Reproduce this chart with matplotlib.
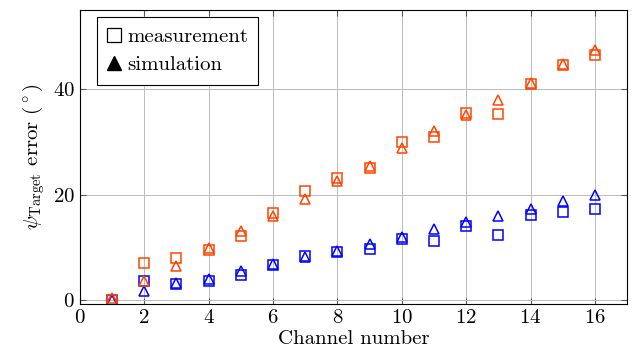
import matplotlib
matplotlib.use('Agg')
from matplotlib import pyplot
from matplotlib.lines import Line2D

pyplot.rcParams['font.family'] = 'serif'
pyplot.rcParams['font.serif'] = ['cmr10', 'DejaVu Serif']
pyplot.rcParams['mathtext.fontset'] = 'cm'
pyplot.rcParams['axes.formatter.use_mathtext'] = True

channels = list(range(1, 17))
orange_meas = [0, 7, 8, 9.5, 12.2, 16.5, 20.7, 23.2, 25, 30, 31, 35.5, 35.3, 41, 44.5, 46.5]
orange_sim = [0.3, 3.5, 6.5, 9.8, 13, 16, 19.2, 22.5, 25.5, 28.8, 32, 35, 38, 41.2, 44.7, 47.5]
blue_meas = [0, 3.5, 3, 3.5, 4.8, 6.7, 8.3, 9, 9.7, 11.5, 11.2, 14, 12.4, 16.2, 16.6, 17.2]
blue_sim = [0, 1.7, 3.2, 4, 5.5, 6.8, 8.2, 9.3, 10.7, 12, 13.5, 14.7, 16, 17.3, 18.7, 20]

blue = '#0000ff'
orange = '#ff4500'

fig = pyplot.figure(figsize=(6.38, 3.62), dpi=100)
ax = fig.add_axes([0.125, 0.16, 0.858, 0.812])

for ys, c in ((blue_meas, blue), (orange_meas, orange)):
    ax.plot(channels, ys, linestyle='none', marker='s', markersize=7.5,
            markerfacecolor='none', markeredgecolor=c, markeredgewidth=1.1)
for ys, c in ((blue_sim, blue), (orange_sim, orange)):
    ax.plot(channels, ys, linestyle='none', marker='^', markersize=7.5,
            markerfacecolor='none', markeredgecolor=c, markeredgewidth=1.1)

ax.set_xlim(0, 17)
ax.set_ylim(-0.8, 55)
ax.set_xticks(range(0, 17, 2))
ax.set_yticks([0, 20, 40])
ax.grid(color='#bbbbbb', linewidth=0.7)
ax.set_axisbelow(True)
ax.tick_params(direction='in', top=True, right=True, labelsize=15, length=4, color='#555555')
for s in ax.spines.values():
    s.set_linewidth(0.8)
ax.set_xlabel('Channel number', fontsize=15, labelpad=2)
ax.set_ylabel(r'$\psi_{\mathrm{Target}}$ error ($^\circ$)', fontsize=15, labelpad=4)

handles = [
    Line2D([], [], linestyle='none', marker='s', markersize=10, markerfacecolor='none',
           markeredgecolor='black', markeredgewidth=0.9),
    Line2D([], [], linestyle='none', marker='^', markersize=10, markerfacecolor='black',
           markeredgecolor='black'),
]
leg = ax.legend(handles, ['measurement', 'simulation'], loc='upper left', fontsize=15,
                fancybox=False, edgecolor='black', framealpha=1, handlelength=0.7,
                handletextpad=0.25, borderpad=0.5, labelspacing=0.45,
                borderaxespad=0, bbox_to_anchor=(0.031, 0.976))
leg.get_frame().set_linewidth(0.8)

fig.savefig('out.png', dpi=100)
